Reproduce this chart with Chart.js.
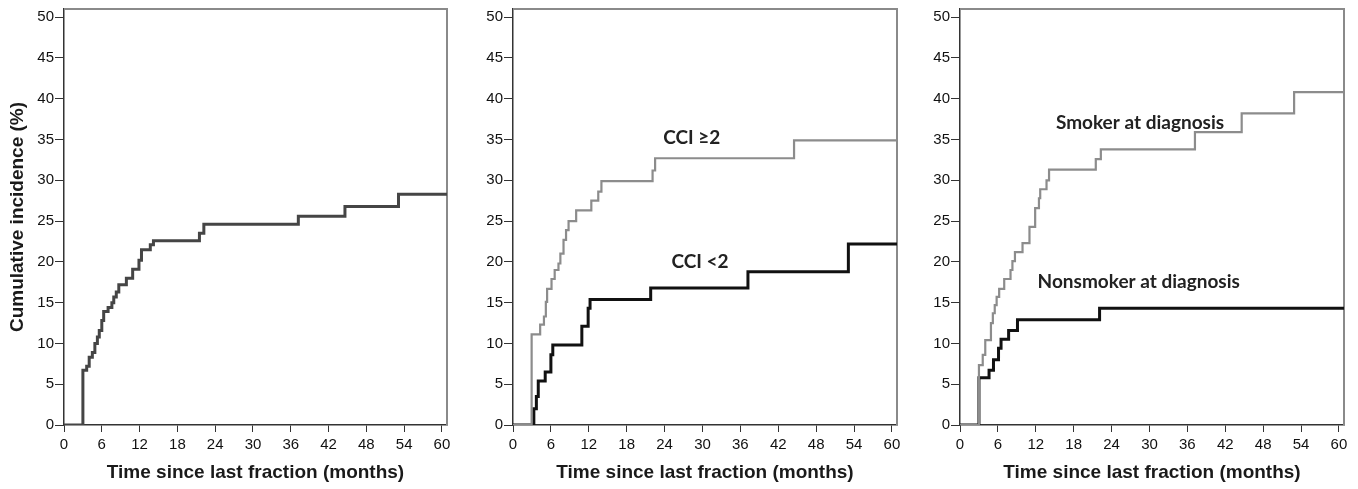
<!DOCTYPE html>
<html>
<head>
<meta charset="utf-8">
<script src="https://cdn.jsdelivr.net/npm/chart.js@4"></script>
<style>
  body { margin: 0; background: #fff; }
  .panel { position: absolute; top: 0; height: 489px; }
</style>
</head>
<body>
<div class="panel" id="p1" style="left:0px;width:450px;"><canvas id="c1"></canvas></div>
<div class="panel" id="p2" style="left:470px;width:430px;"><canvas id="c2"></canvas></div>
<div class="panel" id="p3" style="left:915px;width:432px;"><canvas id="c3"></canvas></div>
<script>
// tick labels
const xTicks = [0, 6, 12, 18, 24, 30, 36, 42, 48, 54, 60];
const yTicks = [0, 5, 10, 15, 20, 25, 30, 35, 40, 45, 50];

// panel 1: all patients (months, cumulative %)
const allTime = [0, 3.0, 3.6, 4.0, 4.5, 4.9, 5.3, 5.6, 6.0, 6.3, 7.0, 7.6, 7.9, 8.3, 8.7, 9.9, 10.9, 11.9, 12.3, 13.7, 14.2, 21.5, 22.2, 37.2, 44.6, 53.1, 60.8];
const allInc  = [0, 6.7, 7.2, 8.3, 8.9, 10.0, 10.8, 11.6, 12.8, 13.9, 14.4, 15.0, 15.7, 16.3, 17.2, 18.0, 19.1, 20.2, 21.5, 22.1, 22.6, 23.5, 24.6, 25.6, 26.8, 28.3, 28.3];

// panel 2: CCI >= 2 and CCI < 2
const cciHiTime = [0, 2.95, 4.3, 4.9, 5.2, 5.4, 6.1, 6.6, 7.2, 7.5, 8.0, 8.4, 8.8, 10.0, 12.4, 13.5, 14.0, 22.1, 22.5, 44.5, 60.8];
const cciHiInc  = [0, 11.1, 12.3, 13.3, 15.1, 16.7, 17.9, 19.0, 19.8, 21.0, 22.7, 23.9, 25.0, 26.3, 27.5, 28.6, 29.9, 31.2, 32.7, 34.9, 34.9];
const cciLoTime = [0, 3.3, 3.7, 4.0, 5.1, 6.0, 6.3, 10.9, 11.9, 12.2, 21.8, 37.2, 53.1, 60.8];
const cciLoInc  = [0, 2.0, 3.5, 5.4, 6.5, 8.6, 9.8, 12.1, 14.3, 15.4, 16.8, 18.8, 22.2, 22.2];

// panel 3: smoker / nonsmoker at diagnosis
const smokTime = [0, 3.0, 3.6, 4.0, 4.9, 5.2, 5.5, 5.8, 6.2, 7.0, 8.0, 8.3, 8.7, 9.9, 11.0, 11.9, 12.5, 12.7, 13.7, 14.1, 21.5, 22.3, 37.2, 44.6, 52.9, 60.8];
const smokInc  = [0, 7.35, 8.6, 10.4, 12.5, 13.7, 14.7, 15.7, 16.7, 17.9, 19.0, 20.1, 21.2, 22.3, 24.3, 26.6, 27.8, 28.9, 30.0, 31.3, 32.6, 33.8, 35.9, 38.2, 40.8, 40.8];
const nonTime = [0, 3.0, 4.6, 5.3, 6.1, 6.5, 7.7, 9.1, 22.1, 60.8];
const nonInc  = [0, 5.8, 6.7, 8.0, 9.4, 10.5, 11.6, 12.9, 14.3, 14.3];

const xMax = 60.8;
const yMax = 51;

function points(times, values) {
    return times.map((t, i) => ({ x: t, y: values[i] }));
}

function curve(times, values, color, width) {
    return {
        data: points(times, values),
        borderColor: color,
        borderWidth: width,
        stepped: 'before',
        pointRadius: 0,
        fill: false
    };
}

// grey frame on the top and right of the plot area, plus the text labels
const framePlugin = {
    id: 'frame',
    beforeDatasetsDraw(chart) {
        const { ctx, chartArea: a } = chart;
        ctx.save();
        ctx.strokeStyle = '#8a8a8a';
        ctx.lineWidth = 2;
        ctx.beginPath();
        ctx.moveTo(a.left, a.top);
        ctx.lineTo(a.right, a.top);
        ctx.lineTo(a.right, a.bottom);
        ctx.stroke();
        ctx.restore();
    },
    afterDatasetsDraw(chart, args, opts) {
        const labels = opts.labels || [];
        const { ctx, scales } = chart;
        ctx.save();
        ctx.fillStyle = '#222';
        ctx.font = 'bold 19px Lato';
        ctx.textAlign = 'center';
        ctx.textBaseline = 'middle';
        labels.forEach(l => {
            ctx.fillText(l.text, scales.x.getPixelForValue(l.x), scales.y.getPixelForValue(l.y));
        });
        ctx.restore();
    }
};

function makeChart(id, datasets, yWidth, yTitle, labels) {
    return new Chart(document.getElementById(id), {
        type: 'line',
        data: { datasets: datasets },
        plugins: [framePlugin],
        options: {
            responsive: true,
            maintainAspectRatio: false,
            animation: false,
            layout: { padding: { top: 9, right: 3, bottom: 0, left: 0 } },
            plugins: {
                legend: { display: false },
                tooltip: { enabled: false },
                frame: { labels: labels }
            },
            scales: {
                x: {
                    type: 'linear',
                    min: 0,
                    max: xMax,
                    afterBuildTicks: s => { s.ticks = xTicks.map(v => ({ value: v })); },
                    afterFit: s => { s.height = 64; s.paddingLeft = 0; s.paddingRight = 0; },
                    grid: { drawOnChartArea: false, drawTicks: true, tickLength: 7, color: '#333', lineWidth: 1 },
                    border: { color: '#333', width: 1.5 },
                    ticks: { color: '#111', padding: 4, maxRotation: 0, font: { family: 'Liberation Sans', size: 15 } },
                    title: {
                        display: true,
                        text: 'Time since last fraction (months)',
                        color: '#1a1a1a',
                        padding: { top: 0, bottom: 5 },
                        font: { family: 'Liberation Sans', size: 19, weight: 'bold' }
                    }
                },
                y: {
                    min: 0,
                    max: yMax,
                    afterBuildTicks: s => { s.ticks = yTicks.map(v => ({ value: v })); },
                    afterFit: s => { s.width = yWidth; s.paddingTop = 0; s.paddingBottom = 0; },
                    grid: { drawOnChartArea: false, drawTicks: true, tickLength: 9, color: '#333', lineWidth: 1 },
                    border: { color: '#333', width: 1.5 },
                    ticks: { color: '#111', padding: 1, font: { family: 'Liberation Sans', size: 15 } },
                    title: {
                        display: yTitle !== '',
                        text: yTitle,
                        color: '#1a1a1a',
                        padding: { top: 6, bottom: 0 },
                        font: { family: 'Liberation Sans', size: 19, weight: 'bold' }
                    }
                }
            }
        }
    });
}

makeChart('c1', [
    curve(allTime, allInc, '#454545', 3)
], 64, 'Cumulative incidence (%)', []);

makeChart('c2', [
    curve(cciHiTime, cciHiInc, '#8c8c8c', 2.2),
    curve(cciLoTime, cciLoInc, '#111', 3)
], 43, '', [
    { text: 'CCI \u22652', x: 28.3, y: 35.2 },
    { text: 'CCI <2', x: 29.6, y: 20.0 }
]);

makeChart('c3', [
    curve(smokTime, smokInc, '#8c8c8c', 2.2),
    curve(nonTime, nonInc, '#111', 3)
], 45, '', [
    { text: 'Smoker at diagnosis', x: 28.5, y: 37.1 },
    { text: 'Nonsmoker at diagnosis', x: 28.3, y: 17.6 }
]);
</script>
</body>
</html>
